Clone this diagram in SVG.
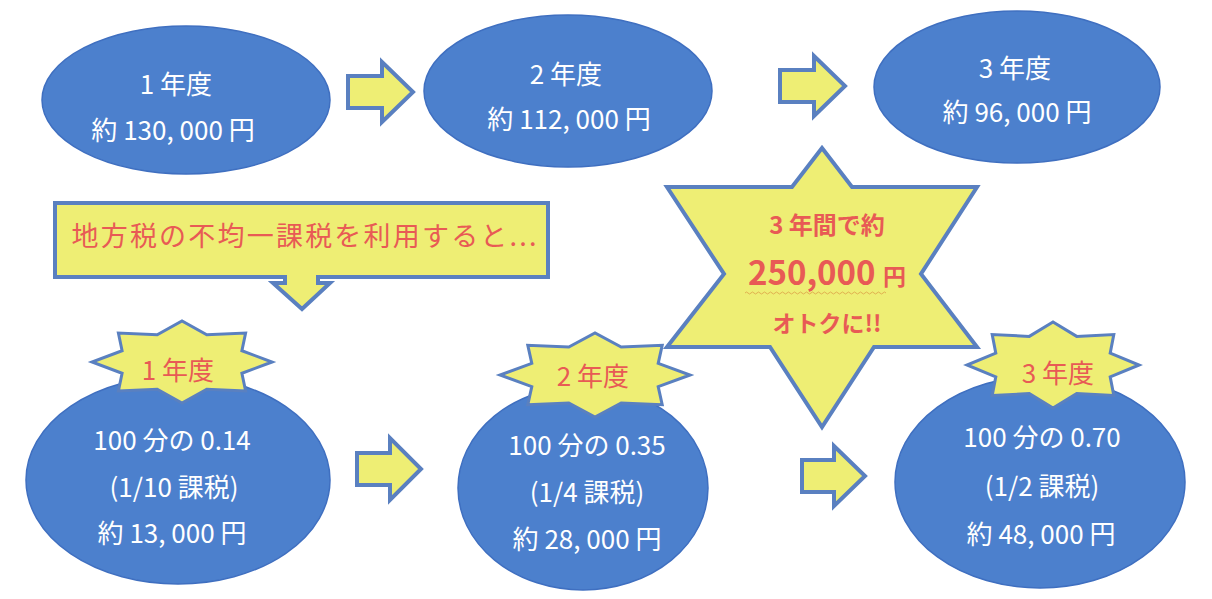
<svg xmlns="http://www.w3.org/2000/svg" width="1212" height="599" viewBox="0 0 1212 599">
<defs>
<style>
.ell{fill:#4c80cd;stroke:#3f6fc0;stroke-width:1.5}
.yel{fill:#eeee74;stroke:#5a80c0;stroke-width:4;stroke-linejoin:miter}
.badge{fill:#eeee74;stroke:#5a80c0;stroke-width:3;stroke-linejoin:miter}
.w{fill:#ffffff;font-family:"Noto Sans CJK JP","Liberation Sans",sans-serif;font-size:26px;text-anchor:middle}
.r{fill:#e85a55;font-family:"Noto Sans CJK JP","Liberation Sans",sans-serif;text-anchor:middle}
</style>
</defs>
<rect width="1212" height="599" fill="#ffffff"/>

<g id="connectors">
<path class="yel" d="M348,76 H382 V62 L413,92 L382,122 V108 H348 Z"/>
<path class="yel" d="M780,70 H814 V56 L845,86 L814,116 V102 H780 Z"/>
<path class="yel" d="M357,453 H390 V438 L421,469 L390,500 V485 H357 Z"/>
<path class="yel" d="M802,460 H834 V446 L865,476 L834,506 V492 H802 Z"/>
</g>

<g id="year1-normal">
<ellipse class="ell" cx="186" cy="100" rx="144" ry="74"/>
<text class="w" x="176" y="94">1 年度</text>
<text class="w" x="173" y="140">約 130, 000 円</text>
</g>
<g id="year2-normal">
<ellipse class="ell" cx="568" cy="91" rx="144" ry="76"/>
<text class="w" x="566" y="84">2 年度</text>
<text class="w" x="569" y="129">約 112, 000 円</text>
</g>
<g id="year3-normal">
<ellipse class="ell" cx="1017" cy="87" rx="143" ry="76"/>
<text class="w" x="1015" y="78">3 年度</text>
<text class="w" x="1017" y="122">約 96, 000 円</text>
</g>

<g id="callout">
<path class="yel" d="M55,203 H548 V277 H318 V283 H330 L302,309 L273,283 H285 V277 H55 Z"/>
<text class="r" x="304" y="246" font-size="27" textLength="465">地方税の不均一課税を利用すると...</text>
</g>

<g id="year1-uneven">
<ellipse class="ell" cx="178" cy="480" rx="152" ry="104"/>
<polygon class="badge" points="272,362 241.9,373.3 245.6,391 206.8,389.3 182,403 157.2,389.3 118.4,391 122.1,373.3 92,362 122.1,350.7 118.4,333 157.2,334.7 182,321 206.8,334.7 245.6,333 241.9,350.7"/>
<text class="r" x="178" y="380" font-size="26">1 年度</text>
<text class="w" x="172" y="450">100 分の 0.14</text>
<text class="w" x="174" y="497">(1/10 課税)</text>
<text class="w" x="172" y="543">約 13, 000 円</text>
</g>
<g id="year2-uneven">
<ellipse class="ell" cx="583" cy="488" rx="125" ry="102"/>
<polygon class="badge" points="690,375 658.2,386.6 662.2,404.7 621.2,402.9 595,417 568.8,402.9 527.8,404.7 531.8,386.6 500,375 531.8,363.4 527.8,345.3 568.8,347.1 595,333 621.2,347.1 662.2,345.3 658.2,363.4"/>
<text class="r" x="593" y="386" font-size="26">2 年度</text>
<text class="w" x="587" y="455">100 分の 0.35</text>
<text class="w" x="587" y="502">(1/4 課税)</text>
<text class="w" x="587" y="549">約 28, 000 円</text>
</g>
<g id="year3-uneven">
<ellipse class="ell" cx="1040" cy="482" rx="145" ry="106"/>
<polygon class="badge" points="1139,365 1110.2,376.8 1113.8,395.4 1076.7,393.6 1053,408 1029.3,393.6 992.2,395.4 995.8,376.8 967,365 995.8,353.2 992.2,334.6 1029.3,336.4 1053,322 1076.7,336.4 1113.8,334.6 1110.2,353.2"/>
<text class="r" x="1058" y="383" font-size="26">3 年度</text>
<text class="w" x="1042" y="447">100 分の 0.70</text>
<text class="w" x="1042" y="496">(1/2 課税)</text>
<text class="w" x="1041" y="544">約 48, 000 円</text>
</g>

<g id="savings-star">
<polygon class="yel" points="822,148 852,187 977,187 921,274 977,347 874,347 822,427 770,347 667,347 724,274 667,187 792,187"/>
<text class="r" x="827" y="234" font-size="24" font-weight="bold">3 年間で約</text>
<text class="r" x="827" y="285" font-size="33" font-weight="bold">250,000 <tspan font-size="23">円</tspan></text>
<path d="M745,293 q1.5,-2 3,0 t3,0 t3,0 t3,0 t3,0 t3,0 t3,0 t3,0 t3,0 t3,0 t3,0 t3,0 t3,0 t3,0 t3,0 t3,0 t3,0 t3,0 t3,0 t3,0 t3,0 t3,0 t3,0 t3,0 t3,0 t3,0 t3,0 t3,0 t3,0 t3,0 t3,0 t3,0 t3,0 t3,0 t3,0 t3,0 t3,0 t3,0 t3,0 t3,0 t3,0 t3,0 t3,0 t3,0 t3,0 t3,0 t3,0" fill="none" stroke="#e0b050" stroke-width="1"/>
<text class="r" x="827" y="332" font-size="23" font-weight="bold">オトクに!!</text>
</g>
</svg>
